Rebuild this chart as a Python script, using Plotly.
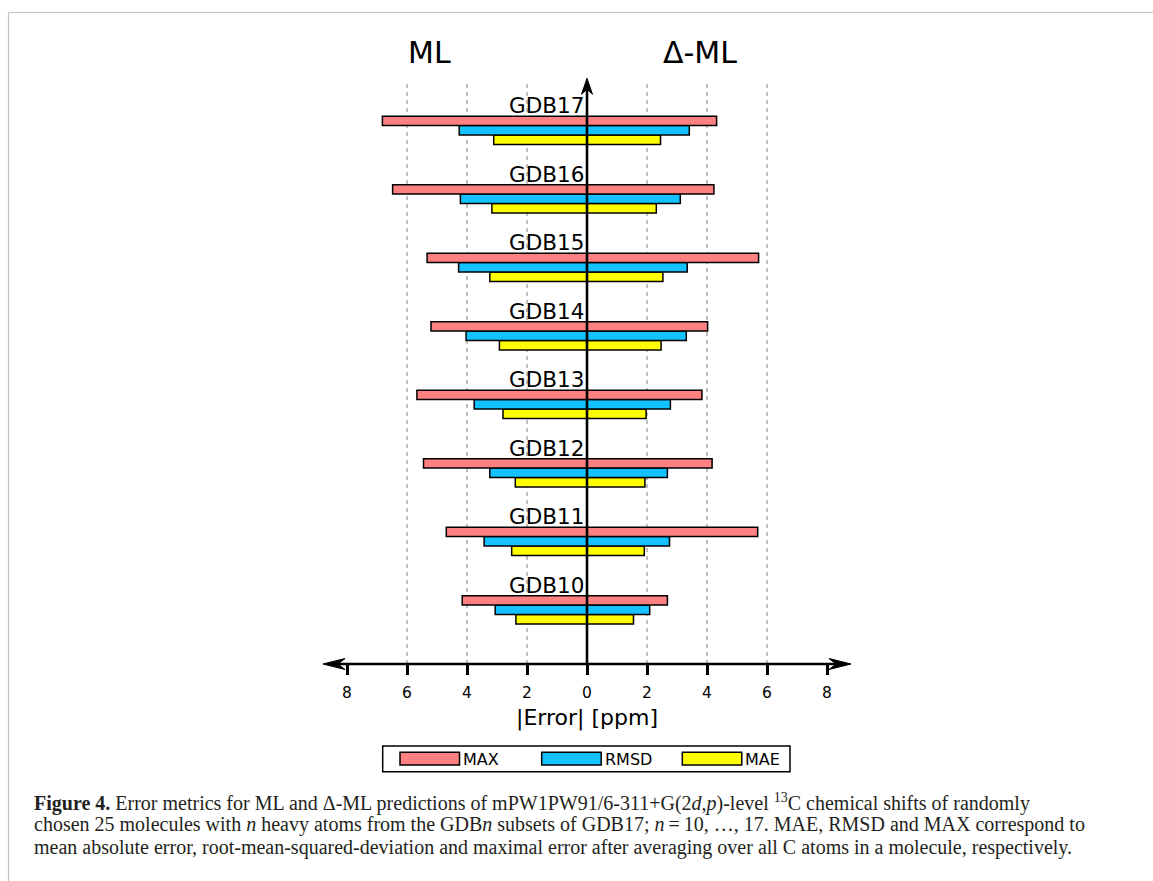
import plotly.graph_objects as go

# ---------------- data ----------------
categories = ["GDB10", "GDB11", "GDB12", "GDB13", "GDB14", "GDB15", "GDB16", "GDB17"]
ml_max = [4.16, 4.69, 5.45, 5.67, 5.20, 5.33, 6.48, 6.82]
ml_rmsd = [3.06, 3.43, 3.24, 3.76, 4.03, 4.28, 4.22, 4.26]
ml_mae = [2.37, 2.51, 2.39, 2.80, 2.92, 3.24, 3.17, 3.11]
dml_max = [2.68, 5.69, 4.17, 3.83, 4.02, 5.72, 4.23, 4.32]
dml_rmsd = [2.09, 2.75, 2.68, 2.78, 3.31, 3.34, 3.11, 3.41]
dml_mae = [1.55, 1.91, 1.93, 1.97, 2.47, 2.53, 2.31, 2.45]
metric_names = ["MAX", "RMSD", "MAE"]
metric_colors = {"MAX": "#ff8080", "RMSD": "#13c2ff", "MAE": "#ffff00"}
tick_vals = [-8, -6, -4, -2, 0, 2, 4, 6, 8]
tick_text = ["8", "6", "4", "2", "0", "2", "4", "6", "8"]
grid_vals = [-6, -4, -2, 2, 4, 6]
side_titles = ["ML", "Δ-ML"]
axis_title = "|Error| [ppm]"
caption_lines = [
    "<b>Figure 4.</b> Error metrics for ML and Δ-ML predictions of mPW1PW91/6-311+G(2<i>d</i>,<i>p</i>)-level <sup>13</sup>C chemical shifts of randomly",
    "chosen 25 molecules with <i>n</i> heavy atoms from the GDB<i>n</i> subsets of GDB17; <i>n</i>\u2009=\u200910, …, 17. MAE, RMSD and MAX correspond to",
    "mean absolute error, root-mean-squared-deviation and maximal error after averaging over all C atoms in a molecule, respectively.",
]

ml = {"MAX": ml_max, "RMSD": ml_rmsd, "MAE": ml_mae}
dml = {"MAX": dml_max, "RMSD": dml_rmsd, "MAE": dml_mae}

# ---------------- layout geometry ----------------
W, H = 1153, 881
ML_, MR_, MT_, MB_ = 323, 302, 83, 217
PW = W - ML_ - MR_
PH = H - MT_ - MB_
XR = [-8.8, 8.8]
YR = [-0.791, 7.690]


def pxx(p):
    return (p - ML_) / PW


def pxy(p):
    return (H - MB_ - p) / PH


SANS = "DejaVu Sans"
fig = go.Figure()

for m in ["MAE", "RMSD", "MAX"]:
    fig.add_trace(go.Bar(
        y=categories, x=[-v for v in ml[m]], orientation="h", name=m,
        offsetgroup=m, marker=dict(color=metric_colors[m], line=dict(color="black", width=1.5)),
        showlegend=False, hovertemplate="ML " + m + ": %{customdata}<extra></extra>",
        customdata=ml[m]))
    fig.add_trace(go.Bar(
        y=categories, x=dml[m], orientation="h", name=m,
        offsetgroup=m, marker=dict(color=metric_colors[m], line=dict(color="black", width=1.5)),
        showlegend=False, hovertemplate="Δ-ML " + m + ": %{x}<extra></extra>"))

shapes = []
# dashed grid lines
for g in grid_vals:
    shapes.append(dict(type="line", xref="x", yref="paper", x0=g, x1=g, y0=0, y1=1,
                       line=dict(color="#b8b8b8", width=1.8, dash="4px,4px"), layer="below"))
# axes lines
shapes.append(dict(type="line", xref="x", yref="paper", x0=XR[0] + 0.3, x1=XR[1] - 0.3, y0=0, y1=0,
                   line=dict(color="black", width=2.6)))
tip_y = 1 + (MT_ - 78.3) / PH
shapes.append(dict(type="line", xref="x", yref="paper", x0=0, x1=0, y0=0, y1=tip_y - 0.01,
                   line=dict(color="black", width=2.6)))
# arrow heads
shapes.append(dict(type="path", xref="x", yref="paper", xsizemode="pixel", ysizemode="pixel",
                   xanchor=XR[0], yanchor=0, path="M0,0 L22,5.5 L15,0 L22,-5.5 Z",
                   fillcolor="black", line=dict(color="black", width=1)))
shapes.append(dict(type="path", xref="x", yref="paper", xsizemode="pixel", ysizemode="pixel",
                   xanchor=XR[1], yanchor=0, path="M0,0 L-22,5.5 L-15,0 L-22,-5.5 Z",
                   fillcolor="black", line=dict(color="black", width=1)))
shapes.append(dict(type="path", xref="x", yref="paper", xsizemode="pixel", ysizemode="pixel",
                   xanchor=0, yanchor=tip_y, path="M0,0 L-5.5,-16 L0,-11 L5.5,-16 Z",
                   fillcolor="black", line=dict(color="black", width=1)))

# custom legend
shapes.append(dict(type="rect", xref="paper", yref="paper", x0=pxx(382.7), x1=pxx(790),
                   y0=pxy(771.7), y1=pxy(746), line=dict(color="black", width=1.5), fillcolor="white"))
annotations = []
leg_x = {"MAX": 400, "RMSD": 541.7, "MAE": 682.3}
for m in metric_names:
    x0 = leg_x[m]
    shapes.append(dict(type="rect", xref="paper", yref="paper", x0=pxx(x0), x1=pxx(x0 + 59.5),
                       y0=pxy(765), y1=pxy(752.3), fillcolor=metric_colors[m],
                       line=dict(color="black", width=1.5)))
    annotations.append(dict(xref="paper", yref="paper", x=pxx(x0 + 61), y=pxy(759.5), text=m,
                            showarrow=False, xanchor="left", yanchor="middle",
                            font=dict(family=SANS, size=16, color="black")))

# page border
shapes.append(dict(type="line", xref="paper", yref="paper", x0=pxx(8.5), x1=pxx(W), y0=pxy(12.5), y1=pxy(12.5),
                   line=dict(color="#c4c4c4", width=1.2)))
shapes.append(dict(type="line", xref="paper", yref="paper", x0=pxx(8.5), x1=pxx(8.5), y0=pxy(12.5), y1=pxy(H),
                   line=dict(color="#c4c4c4", width=1.2)))

# category labels
for c in categories:
    annotations.append(dict(x=0, y=c, xref="x", yref="y", text=c, showarrow=False,
                            xanchor="right", yanchor="middle", xshift=-1, yshift=24.5,
                            font=dict(family=SANS, size=21.5, color="black")))
# side titles
for t, xc in zip(side_titles, [-5.25, 3.75]):
    annotations.append(dict(x=xc, y=pxy(52.5), xref="x", yref="paper", text=t, showarrow=False,
                            xanchor="center", yanchor="middle",
                            font=dict(family=SANS, size=30, color="black")))
# axis title
annotations.append(dict(x=0, y=pxy(718), xref="x", yref="paper", text=axis_title, showarrow=False,
                        xanchor="center", yanchor="middle",
                        font=dict(family=SANS, size=22, color="black")))
# caption
for i, line in enumerate(caption_lines):
    annotations.append(dict(x=pxx(32), y=pxy(802 + 22.5 * i), xref="paper", yref="paper", text=line,
                            showarrow=False, xanchor="left", yanchor="middle", align="left",
                            font=dict(family="Liberation Serif", size=20, color="#231f20")))

fig.update_layout(
    width=W, height=H, margin=dict(l=ML_, r=MR_, t=MT_, b=MB_, pad=0),
    paper_bgcolor="white", plot_bgcolor="white",
    barmode="group", bargap=0.588, bargroupgap=0,
    shapes=shapes, annotations=annotations, showlegend=False,
    xaxis=dict(range=XR, tickvals=tick_vals, ticktext=tick_text, ticks="outside", ticklen=10,
               tickwidth=2.6, tickcolor="black", showgrid=False, zeroline=False, showline=False,
               ticklabelstandoff=4,
               tickfont=dict(family=SANS, size=15.5, color="black"), fixedrange=True),
    yaxis=dict(type="category", range=YR, showticklabels=False, showgrid=False, zeroline=False,
               showline=False, ticks="", fixedrange=True),
)

fig.write_html("out.html", post_script="document.body.style.margin='0';",
               config={"displayModeBar": False})
